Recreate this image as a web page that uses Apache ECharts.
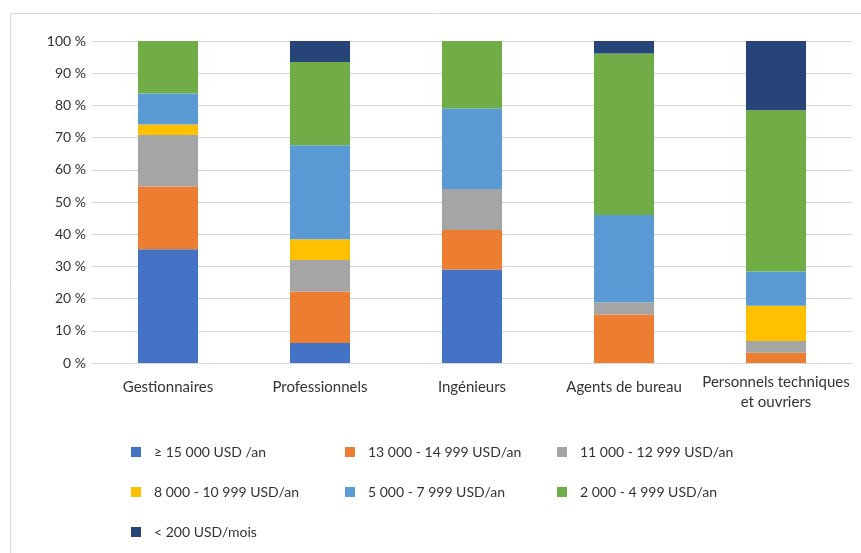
<!DOCTYPE html>
<html>
<head>
<meta charset="utf-8">
<script src="https://cdn.jsdelivr.net/npm/echarts@6/dist/echarts.min.js"></script>
<style>
  html, body { margin: 0; padding: 0; background: #fff; }
  #chart { width: 861px; height: 553px; }
</style>
</head>
<body>
<div id="chart"></div>
<script>
// Occupational categories (x axis)
const categories = ['Gestionnaires', 'Professionnels', 'Ingénieurs', 'Agents de bureau', 'Personnels techniques\net ouvriers'];

// Income bracket names (stack order, bottom to top)
const seriesNames = [
  '≥ 15 000 USD /an',
  '13 000 - 14 999 USD/an',
  '11 000 - 12 999 USD/an',
  '8 000 - 10 999 USD/an',
  '5 000 - 7 999 USD/an',
  '2 000 - 4 999 USD/an',
  '< 200 USD/mois'
];

// Share of each bracket per category (%)
const above15000   = [35.3, 6.2, 29.0, 0, 0];
const from13000    = [19.5, 16.0, 12.3, 15.1, 3.2];
const from11000    = [16.0, 9.8, 12.7, 3.8, 3.6];
const from8000     = [3.3, 6.4, 0, 0, 11.0];
const from5000     = [9.6, 29.2, 25.0, 27.1, 10.6];
const from2000     = [16.3, 25.9, 21.0, 50.1, 50.1];
const under200Mois = [0, 6.5, 0, 3.9, 21.5];

// Y axis ticks
const yTicks = [0, 10, 20, 30, 40, 50, 60, 70, 80, 90, 100];

const seriesValues = [above15000, from13000, from11000, from8000, from5000, from2000, under200Mois];
const colors = ['#4472C4', '#ED7D31', '#A5A5A5', '#FFC000', '#5B9BD5', '#70AD47', '#264478'];

const FONT = 'Lato, "Liberation Sans", sans-serif';
const TEXT = '#333333';

const chart = echarts.init(document.getElementById('chart'), null, { renderer: 'canvas' });

function legendColumn(left, names) {
  return {
    orient: 'vertical',
    left: left,
    top: 444,
    padding: 0,
    itemWidth: 10,
    itemHeight: 10,
    itemGap: 24,
    icon: 'rect',
    selectedMode: false,
    data: names,
    textStyle: { fontFamily: FONT, fontSize: 14, color: TEXT, lineHeight: 16, padding: [0, 0, 0, 8] }
  };
}

// The two-line label sits a little higher than the single-line ones
const xAxisData = categories.map(c => c.indexOf('\n') >= 0
  ? { value: c, textStyle: { padding: [-5, 0, 0, 0] } }
  : c);

const option = {
  animation: false,
  backgroundColor: '#ffffff',
  color: colors,
  graphic: [{
    type: 'rect',
    shape: { x: 10.5, y: 13.5, width: 900, height: 700 },
    style: { fill: 'none', stroke: '#D9D9D9', lineWidth: 1 },
    silent: true,
    z: -1
  }],
  legend: [
    legendColumn(131, [seriesNames[0], seriesNames[3], seriesNames[6]]),
    legendColumn(345, [seriesNames[1], seriesNames[4]]),
    legendColumn(557, [seriesNames[2], seriesNames[5]])
  ],
  grid: { left: 92, right: 9, top: 41, bottom: 190, containLabel: false },
  xAxis: {
    type: 'category',
    data: xAxisData,
    axisTick: { show: false },
    axisLine: { lineStyle: { color: '#D9D9D9', width: 1 } },
    axisLabel: {
      fontFamily: FONT, fontSize: 15, color: TEXT,
      margin: 14, lineHeight: 20, interval: 0
    }
  },
  yAxis: {
    type: 'value',
    min: yTicks[0],
    max: yTicks[yTicks.length - 1],
    interval: yTicks[1] - yTicks[0],
    axisLine: { show: false },
    axisTick: { show: false },
    splitLine: { lineStyle: { color: '#D9D9D9', width: 1 } },
    axisLabel: {
      fontFamily: FONT, fontSize: 14, color: TEXT, margin: 6,
      formatter: '{value} %'
    }
  },
  series: seriesNames.map((name, i) => ({
    name: name,
    type: 'bar',
    stack: 'total',
    barWidth: '39.5%',
    data: seriesValues[i],
    itemStyle: { color: colors[i] }
  }))
};

chart.setOption(option);
</script>
</body>
</html>
